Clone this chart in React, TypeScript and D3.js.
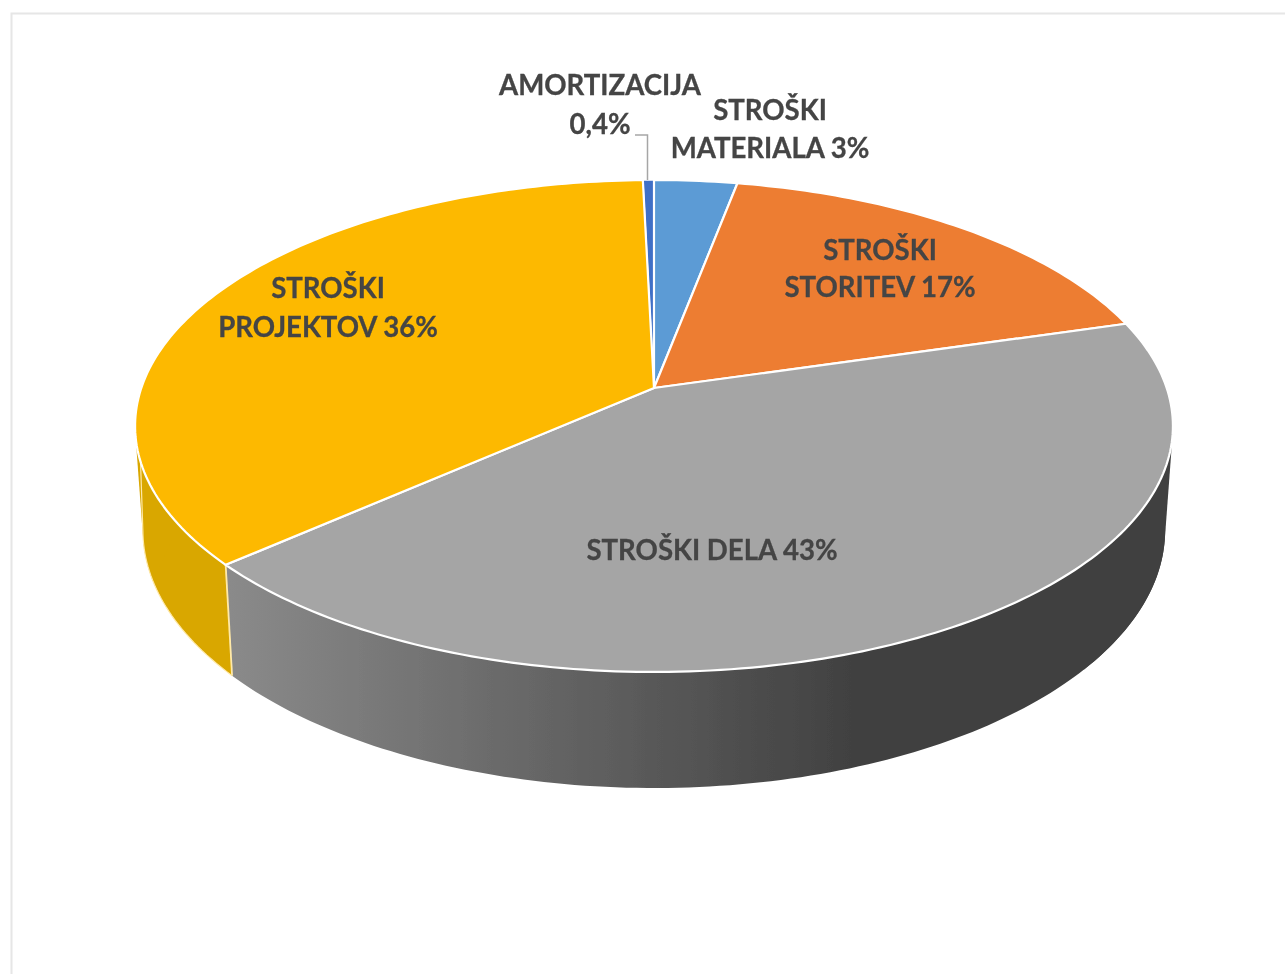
import React from "react";
import * as d3 from "d3";

const categories = ["AMORTIZACIJA", "STROŠKI MATERIALA", "STROŠKI STORITEV", "STROŠKI DELA", "STROŠKI PROJEKTOV"];
const shares = [0.4, 3, 17.5, 43, 36.1];
const topColors = ["#3f6fc6", "#5b9bd5", "#ed7d31", "#a5a5a5", "#fdb900"];
const labelLines = [
  ["AMORTIZACIJA", "0,4%"],
  ["STROŠKI", "MATERIALA 3%"],
  ["STROŠKI", "STORITEV 17%"],
  ["STROŠKI DELA 43%"],
  ["STROŠKI", "PROJEKTOV 36%"],
];
const labelAnchors = [
  { x: 600, y: 95, dy: 39 },
  { x: 770, y: 120, dy: 38 },
  { x: 880, y: 260, dy: 37 },
  { x: 712, y: 560, dy: 0 },
  { x: 328, y: 298, dy: 39 },
];

const W = 1285;
const H = 974;
const deg = Math.PI / 180;

// Perspective projection of the unit disc onto the picture plane.
const persp = -0.1545;
const project = (theta: number, r: number, cx: number, cy: number, a: number, b: number): [number, number] => {
  const X = r * Math.sin(theta);
  const Y = -r * Math.cos(theta);
  const w = 1 + persp * Y;
  return [cx + (a * X) / w, cy + (b * Y) / w];
};
const topFace = { cx: 654, cy: 388, a: 512.7, b: 240.1 };
const botFace = { cx: 654, cy: 490.2, a: 505, b: 251.8 };
const onFace = (t: number, f: typeof topFace) => project(t, 1, f.cx, f.cy, f.a, f.b);

const startShare = -shares[0] / 100;
const pieGen = d3
  .pie<number>()
  .sort(null)
  .startAngle(startShare * 2 * Math.PI)
  .endAngle((startShare + 1) * 2 * Math.PI);
const arcs = pieGen(shares);
const line = d3.line();

const sample = (a0: number, a1: number) => {
  const n = Math.max(8, Math.ceil((a1 - a0) / deg));
  return d3.range(n + 1).map((i) => a0 + ((a1 - a0) * i) / n);
};
const rim = (a0: number, a1: number, f: typeof topFace) => sample(a0, a1).map((t) => onFace(t, f));

const slicePath = (a0: number, a1: number) =>
  line([[topFace.cx, topFace.cy], ...rim(a0, a1, topFace)]) + "Z";
const wallPath = (a0: number, a1: number) =>
  line([...rim(a0, a1, topFace), ...rim(a0, a1, botFace).reverse()]) + "Z";
// Convex silhouette of the extruded side where the wall turns away from the viewer.
const hullPath = (a0: number, a1: number) =>
  line(d3.polygonHull([...rim(a0, a1, topFace), ...rim(a0, a1, botFace)]) as [number, number][]) + "Z";

const font = "Lato, 'Open Sans', sans-serif";

export default function App() {
  const [, , , dela, projektov] = arcs;
  const goldEdge = line([...rim(dela.endAngle, 261 * deg, botFace), onFace(253 * deg, topFace)]) as string;
  const goldSeam = line([onFace(dela.endAngle, topFace), onFace(dela.endAngle, botFace)]) as string;
  return (
    <svg
      width={W}
      height={H}
      viewBox={`0 0 ${W} ${H}`}
      style={{ position: "absolute", left: 0, top: 0, display: "block", background: "#fff" }}
    >
      <defs>
        <linearGradient id="grayWall" gradientUnits="userSpaceOnUse" x1={230} x2={860} y1={0} y2={0}>
          <stop offset="0" stopColor="#8a8a8a" />
          <stop offset="1" stopColor="#404040" />
        </linearGradient>
        <filter id="soft" x="-5%" y="-5%" width="110%" height="110%">
          <feGaussianBlur stdDeviation="0.6" />
        </filter>
      </defs>

      <path
        d={`M${W + 10},13.5H11.5V${H + 10}`}
        fill="none"
        stroke="#e6e6e6"
        strokeWidth={2}
        filter="url(#soft)"
      />

      <g filter="url(#soft)">
        <path d={wallPath(dela.startAngle, dela.endAngle)} fill="url(#grayWall)" />
        <path d={hullPath(dela.startAngle, 130 * deg)} fill="url(#grayWall)" />
        <path d={wallPath(projektov.startAngle, projektov.endAngle)} fill="#d9a700" />
        <path d={hullPath(250 * deg, 300 * deg)} fill="#d9a700" />
        <path d={goldEdge} fill="none" stroke="#ffe9a8" strokeWidth={1.2} />
        <path d={goldSeam} fill="none" stroke="#ffe9a8" strokeWidth={1.8} />
        {arcs.map((d, i) => (
          <path
            key={categories[i]}
            d={slicePath(d.startAngle, d.endAngle)}
            fill={topColors[i]}
            stroke="#fff"
            strokeWidth={i === 0 ? 1.5 : 2.2}
            strokeLinejoin="round"
          />
        ))}
        <path d="M635,135H647.5V180" fill="none" stroke="#a6a6a6" strokeWidth={1.5} />
      </g>

      <g
        fontFamily={font}
        fontWeight={700}
        fontSize={27.6}
        fill="#444444"
        stroke="#444444"
        strokeWidth={0.3}
        textAnchor="middle"
        filter="url(#soft)"
      >
        {labelLines.map((lines, i) => (
          <text key={categories[i]} x={labelAnchors[i].x} y={labelAnchors[i].y}>
            {lines.map((s, j) => (
              <tspan key={j} x={labelAnchors[i].x} dy={j === 0 ? 0 : labelAnchors[i].dy}>
                {s}
              </tspan>
            ))}
          </text>
        ))}
      </g>
    </svg>
  );
}
